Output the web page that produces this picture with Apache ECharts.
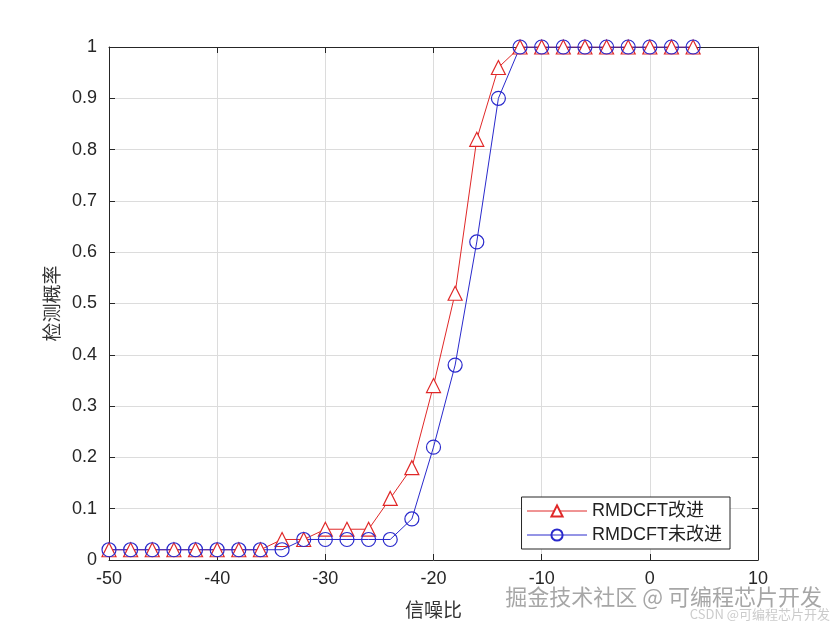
<!DOCTYPE html>
<html>
<head>
<meta charset="utf-8">
<script src="https://cdn.jsdelivr.net/npm/echarts@6/dist/echarts.min.js"></script>
<style>
html,body{margin:0;padding:0;background:#fff;}
#main{width:840px;height:630px;}
</style>
</head>
<body>
<div id="main"></div>
<script>
// 信噪比 (dB)
var snr = [-50,-48,-46,-44,-42,-40,-38,-36,-34,-32,-30,-28,-26,-24,-22,-20,-18,-16,-14,-12,-10,-8,-6,-4,-2,0,2,4];
// 检测概率
var pdImproved = [0.02,0.02,0.02,0.02,0.02,0.02,0.02,0.02,0.04,0.04,0.06,0.06,0.06,0.12,0.18,0.34,0.52,0.82,0.96,1,1,1,1,1,1,1,1,1];
var pdOriginal = [0.02,0.02,0.02,0.02,0.02,0.02,0.02,0.02,0.02,0.04,0.04,0.04,0.04,0.04,0.08,0.22,0.38,0.62,0.90,1,1,1,1,1,1,1,1,1];
var seriesNames = ['RMDCFT改进','RMDCFT未改进'];

function pairs(ys){
    var out = [];
    for(var i=0;i<snr.length;i++){
        out.push([snr[i], ys[i]]);
    }
    return out;
}

var chart = echarts.init(document.getElementById('main'));
var latin = '"Liberation Sans", Arial, sans-serif';
var cjk = '"Noto Sans CJK SC", sans-serif';
var axisColor = '#262626';

//坐标轴公共样式
var tickStyle = {show:true, inside:true, length:6, lineStyle:{color:axisColor}};
var lineStyle = {show:true, onZero:false, lineStyle:{color:axisColor, width:1}};

var option = {
    backgroundColor:'#fff',
    animation:false,
    grid:{left:109, right:82, top:47, bottom:70},
    legend:{
        data:seriesNames,
        orient:'vertical',
        right:110,
        bottom:81,
        backgroundColor:'#fff',
        borderColor:axisColor,
        borderWidth:1,
        borderRadius:0,
        padding:[5,8,5,5],
        itemGap:6,
        itemWidth:60,
        itemHeight:14,
        lineStyle:{width:1},
        textStyle:{fontFamily:latin + ',' + cjk, fontSize:18, color:'#222'}
    },
    xAxis:[{
        type:'value',
        min:-50, max:10, interval:10,
        name:'信噪比',
        nameLocation:'middle',
        nameGap:40,
        nameTextStyle:{fontFamily:cjk, fontSize:19, color:'#333'},
        axisLine:lineStyle,
        axisTick:tickStyle,
        axisLabel:{fontFamily:latin, fontSize:18, color:'#262626', margin:10},
        splitLine:{show:true, lineStyle:{color:'#dcdcdc'}}
    },{
        type:'value', position:'top',
        min:-50, max:10, interval:10,
        axisLine:lineStyle, axisTick:tickStyle,
        axisLabel:{show:false}, splitLine:{show:false}
    }],
    yAxis:[{
        type:'value',
        min:0, max:1, interval:0.1,
        name:'检测概率',
        nameLocation:'middle',
        nameGap:44,
        nameTextStyle:{fontFamily:cjk, fontSize:19, color:'#333'},
        axisLine:lineStyle,
        axisTick:tickStyle,
        axisLabel:{fontFamily:latin, fontSize:18, color:'#262626', margin:12},
        splitLine:{show:true, lineStyle:{color:'#dcdcdc'}}
    },{
        type:'value', position:'right',
        min:0, max:1, interval:0.1,
        axisLine:lineStyle, axisTick:tickStyle,
        axisLabel:{show:false}, splitLine:{show:false}
    }],
    series:[{
        name:seriesNames[0],
        type:'line',
        data:pairs(pdImproved),
        symbol:'triangle',
        symbolSize:14,
        showAllSymbol:true,
        color:'#e02828',
        lineStyle:{width:1, color:'#e02828'},
        itemStyle:{color:'#fff', borderColor:'#e02828', borderWidth:1.2}
    },{
        name:seriesNames[1],
        type:'line',
        data:pairs(pdOriginal),
        symbol:'circle',
        symbolSize:14,
        showAllSymbol:true,
        color:'#2a2acc',
        lineStyle:{width:1, color:'#2a2acc'},
        itemStyle:{color:'rgba(255,255,255,0)', borderColor:'#2a2acc', borderWidth:1.2}
    }],
    graphic:[{
        type:'text', right:18, top:586,
        style:{text:'掘金技术社区 @ 可编程芯片开发', font:'22px "Noto Sans CJK SC"', fill:'rgba(150,150,150,0.85)'}
    },{
        type:'text', right:10, top:608,
        style:{text:'CSDN @可编程芯片开发', font:'13px "Noto Sans CJK SC"', fill:'rgba(190,190,190,0.8)'}
    }]
};
chart.setOption(option);
</script>
</body>
</html>
